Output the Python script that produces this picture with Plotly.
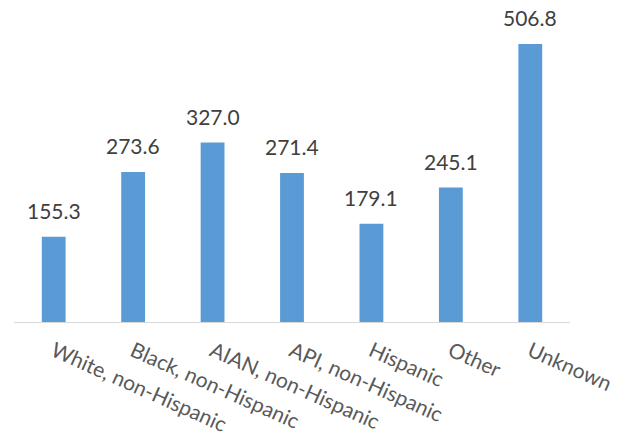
import plotly.graph_objects as go

categories = ["White, non-Hispanic", "Black, non-Hispanic", "AIAN, non-Hispanic",
              "API, non-Hispanic", "Hispanic", "Other", "Unknown"]
rates = [155.3, 273.6, 327.0, 271.4, 179.1, 245.1, 506.8]

FONT = "Lato"

fig = go.Figure()
fig.add_trace(go.Bar(
    x=categories, y=rates,
    marker=dict(color="#5B9BD5", line=dict(width=0)),
))

# value labels above bars
for c, v in zip(categories, rates):
    fig.add_annotation(x=c, y=v, text=f"{v:.1f}", showarrow=False,
                       yanchor="bottom", yshift=12,
                       font=dict(family=FONT, size=21, color="#404040"))

# page body has an 8px default margin, so size the figure to the visible area
fig.update_layout(
    width=619, height=435,
    margin=dict(l=6, r=57, t=4, b=121),
    plot_bgcolor="white", paper_bgcolor="white",
    bargap=0.7, showlegend=False,
    xaxis=dict(tickangle=24, showline=True, linecolor="#D9D9D9", linewidth=1,
               ticks="outside", ticklen=8, tickcolor="white", automargin=False,
               tickfont=dict(family=FONT, size=21, color="#595959")),
    yaxis=dict(range=[0, 565], visible=False, automargin=False),
)

fig.write_html("out.html")
